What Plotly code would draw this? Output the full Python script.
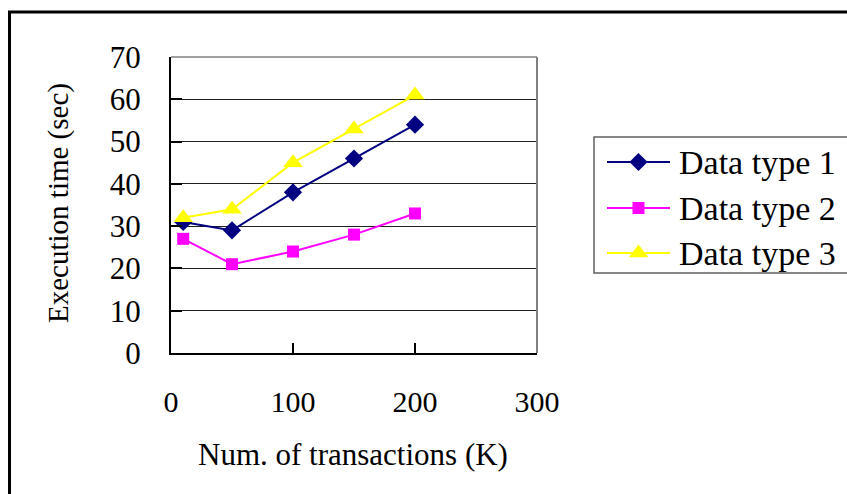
import plotly.graph_objects as go

# Number of transactions (K)
transactions = [10, 50, 100, 150, 200]

# Execution time (sec) per data type
type1_time = [31, 29, 38, 46, 54]
type2_time = [27, 21, 24, 28, 33]
type3_time = [32, 34, 45, 53, 61]

series_names = ["Data type 1", "Data type 2", "Data type 3"]
series_colors = ["#000080", "#FF00FF", "#FFFF00"]
series_symbols = ["diamond", "square", "triangle-up"]
series_sizes = [14, 12, 17]
series_values = [type1_time, type2_time, type3_time]

W, H = 847, 494
FONT = "Liberation Serif"

# plot area in pixels
PX_L, PX_R, PX_T, PX_B = 171, 537, 57, 353
# legend box in pixels
LG_L, LG_R, LG_T, LG_B = 594, 847, 137, 273


def px_x(p):
    return p / W


def px_y(p):
    return (H - p) / H


fig = go.Figure()

for name, color, sym, size, vals in zip(series_names, series_colors,
                                        series_symbols, series_sizes,
                                        series_values):
    fig.add_trace(go.Scatter(
        x=transactions, y=vals, name=name, mode="lines+markers",
        line=dict(color=color, width=2),
        marker=dict(symbol=sym, size=size, color=color,
                    line=dict(width=0)),
        showlegend=False, xaxis="x", yaxis="y", cliponaxis=False,
    ))

# legend samples drawn on a pixel-space overlay axis
row_y = [162, 208, 253]
for name, color, sym, size, ry in zip(series_names, series_colors,
                                      series_symbols, series_sizes, row_y):
    fig.add_trace(go.Scatter(
        x=[607, 670], y=[ry, ry], mode="lines",
        line=dict(color=color, width=2), showlegend=False,
        xaxis="x2", yaxis="y2", hoverinfo="skip",
    ))
    fig.add_trace(go.Scatter(
        x=[638.5], y=[ry], mode="markers",
        marker=dict(symbol=sym, size=size, color=color, line=dict(width=0)),
        showlegend=False, xaxis="x2", yaxis="y2", hoverinfo="skip",
    ))
    fig.add_annotation(
        x=677, y=ry, xref="x2", yref="y2", text=name, showarrow=False,
        xanchor="left", yanchor="middle",
        font=dict(family=FONT, size=34, color="black"),
    )

fig.update_layout(
    width=W, height=H,
    margin=dict(l=0, r=0, t=0, b=0, pad=0, autoexpand=False),
    paper_bgcolor="white", plot_bgcolor="white",
    font=dict(family=FONT, size=29, color="black"),
    xaxis=dict(
        domain=[px_x(PX_L), px_x(PX_R)], range=[0, 300],
        tickvals=[0, 100, 200, 300], ticks="inside", ticklen=10,
        tickcolor="black", tickwidth=1.5, showgrid=False,
        showline=True, linecolor="black", linewidth=2,
        zeroline=False, ticklabelstandoff=21, automargin=False,
        tickfont=dict(family=FONT, size=30), anchor="y",
    ),
    yaxis=dict(
        domain=[px_y(PX_B), px_y(PX_T)], range=[0, 70],
        dtick=10, ticks="inside", ticklen=11, tickcolor="black",
        tickwidth=1.5, showgrid=True, gridcolor="#202020", gridwidth=1.2,
        showline=True, linecolor="black", linewidth=2,
        zeroline=False, ticklabelstandoff=22, automargin=False,
        tickfont=dict(family=FONT, size=31), anchor="x",
    ),
    xaxis2=dict(
        domain=[px_x(LG_L), 1], range=[LG_L, W], visible=False,
        anchor="y2", fixedrange=True, automargin=False,
    ),
    yaxis2=dict(
        domain=[px_y(LG_B), px_y(LG_T)], range=[LG_B, LG_T], visible=False,
        anchor="x2", fixedrange=True, automargin=False,
    ),
    showlegend=False,
)

# gray plot-area border on top and right
fig.add_shape(type="line", xref="paper", yref="paper",
              x0=px_x(PX_L), x1=px_x(PX_R), y0=px_y(PX_T), y1=px_y(PX_T),
              line=dict(color="#808080", width=1.5))
fig.add_shape(type="line", xref="paper", yref="paper",
              x0=px_x(PX_R), x1=px_x(PX_R), y0=px_y(PX_T), y1=px_y(PX_B),
              line=dict(color="#808080", width=2))

# legend frame (runs past the right edge)
fig.add_shape(type="rect", xref="paper", yref="paper",
              x0=px_x(LG_L), x1=px_x(W + 20), y0=px_y(LG_B), y1=px_y(LG_T),
              line=dict(color="#606060", width=1.5))

# outer chart frame (runs past the right and bottom edges)
fig.add_shape(type="rect", xref="paper", yref="paper",
              x0=px_x(9.5), x1=px_x(W + 20), y0=px_y(H + 20), y1=px_y(12),
              line=dict(color="black", width=3))

# axis titles
fig.add_annotation(
    x=px_x(58), y=px_y(203), xref="paper", yref="paper",
    text="Execution time (sec)", textangle=-90, showarrow=False,
    xanchor="center", yanchor="middle",
    font=dict(family=FONT, size=29, color="black"),
)
fig.add_annotation(
    x=px_x(353), y=px_y(454), xref="paper", yref="paper",
    text="Num. of transactions (K)", showarrow=False,
    xanchor="center", yanchor="middle",
    font=dict(family=FONT, size=31, color="black"),
)

fig.write_html("out.html")
